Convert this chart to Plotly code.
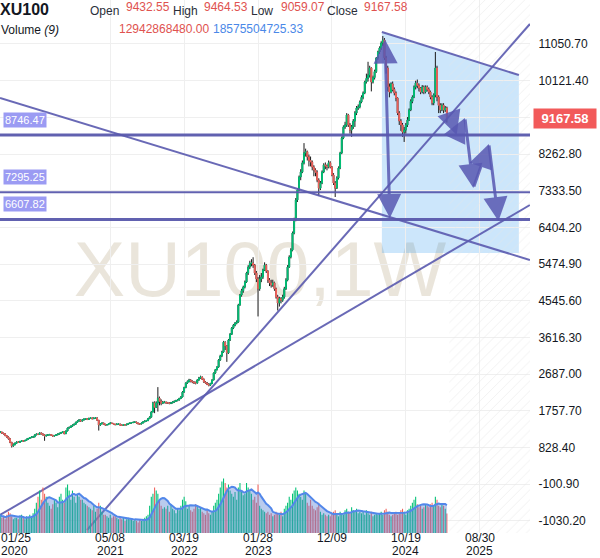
import pandas as pd
import numpy as np
import plotly.graph_objects as go

# ---------------- data (weekly XU100) ----------------
FIRST_WEEK = "2020-01-25"
FIRST_OPEN = 1210

close = [
    1223, 1195, 1180, 1130, 1097, 1050, 960, 870, 900, 940,
    970, 960, 985, 1000, 995, 1010, 1040, 1060, 1080, 1097,
    1097, 1150, 1170, 1160, 1200, 1175, 1150, 1122, 1140, 1150,
    1160, 1140, 1120, 1135, 1150, 1170, 1190, 1210, 1230, 1180,
    1250, 1324, 1340, 1370, 1400, 1420, 1470, 1500, 1527, 1500,
    1530, 1550, 1560, 1540, 1570, 1580, 1560, 1575, 1580, 1520,
    1400, 1430, 1450, 1420, 1400, 1410, 1430, 1450, 1440, 1420,
    1410, 1425, 1425, 1400, 1390, 1410, 1400, 1420, 1440, 1450,
    1460, 1470, 1475, 1450, 1430, 1425, 1450, 1480, 1500, 1510,
    1560, 1600, 1730, 1960, 1850, 1960, 2080, 2000, 1950, 1980,
    1980, 1960, 1960, 1950, 1960, 1980, 2000, 2020, 2033, 2070,
    2110, 2235, 2350, 2463, 2500, 2540, 2510, 2490, 2470, 2463,
    2540, 2590, 2616, 2560, 2490, 2463, 2430, 2410, 2450, 2540,
    2717, 2800, 2870, 3045, 3150, 3250, 3500, 3400, 3225, 3553,
    3700, 3857, 3930, 3980, 4010, 4440, 4693, 4800, 4896, 5022,
    5250, 5400, 5500, 5503, 5450, 5250, 5100, 4850, 5100, 5150,
    5325, 5450, 5300, 5070, 5000, 4945, 5000, 4850, 4640, 4490,
    4600, 4560, 4640, 4850, 5070, 5400, 5655, 5830, 6263, 6593,
    7100, 7353, 7683, 7810, 8040, 8290, 8320, 8190, 8100, 8062,
    7935, 7860, 7800, 7605, 7400, 7530, 7810, 7987, 7960, 7935,
    8040, 7935, 7733, 7530, 7400, 7657, 7910, 8290, 8670, 8950,
    9000, 9252, 9000, 8870, 8950, 9100, 9303, 9430, 9455, 9582,
    9700, 9810, 10088, 10180, 10265, 10443, 10088, 10200, 10350, 10696,
    10848, 10950, 11075, 11150, 10700, 10443, 9962, 9835, 10040, 9900,
    9810, 9683, 9303, 9100, 9000, 8820, 8870, 9000, 9125, 9380,
    9600, 9708, 9962, 10063, 10000, 9936, 9835, 9962, 9835, 9962,
    9900, 9835, 9708, 9557, 9760, 10443, 9708, 9500, 9380, 9500,
    9380, 9432.55, 9167.58,
]

high = [
    1240, 1230, 1205, 1190, 1140, 1110, 1060, 975, 935, 960,
    985, 990, 995, 1015, 1012, 1020, 1050, 1070, 1095, 1110,
    1115, 1160, 1185, 1180, 1215, 1210, 1185, 1160, 1155, 1165,
    1175, 1170, 1150, 1145, 1165, 1180, 1200, 1225, 1245, 1240,
    1260, 1335, 1360, 1385, 1410, 1435, 1480, 1515, 1545, 1540,
    1545, 1565, 1575, 1575, 1585, 1595, 1590, 1590, 1600, 1595,
    1530, 1445, 1465, 1460, 1430, 1425, 1440, 1465, 1460, 1450,
    1430, 1440, 1440, 1435, 1410, 1420, 1420, 1430, 1450, 1465,
    1475, 1485, 1490, 1485, 1460, 1440, 1460, 1490, 1515, 1530,
    1575, 1620, 1750, 1990, 2000, 2000, 2360, 2120, 2050, 2010,
    2010, 1995, 1985, 1980, 1985, 2000, 2020, 2040, 2055, 2090,
    2130, 2260, 2370, 2480, 2530, 2570, 2560, 2530, 2510, 2500,
    2560, 2620, 2650, 2630, 2580, 2510, 2490, 2460, 2470, 2560,
    2730, 2820, 2890, 3070, 3180, 3280, 3530, 3520, 3420, 3580,
    3730, 3880, 3960, 4010, 4050, 4470, 4720, 4850, 4930, 5060,
    5280, 5450, 5560, 5600, 5650, 5480, 5300, 5150, 5200, 5250,
    5360, 5520, 5480, 5320, 5120, 5080, 5080, 5030, 4880, 4700,
    4650, 4640, 4700, 4900, 5120, 5450, 5700, 5880, 6300, 6650,
    7150, 7400, 7720, 7880, 8100, 8540, 8400, 8350, 8250, 8200,
    8100, 7980, 7900, 7850, 7650, 7580, 7850, 8030, 8050, 8000,
    8100, 8080, 7960, 7780, 7580, 7700, 7950, 8320, 8710, 8990,
    9080, 9300, 9280, 9050, 9000, 9150, 9350, 9480, 9520, 9620,
    9750, 9850, 10120, 10300, 10600, 10500, 10460, 10250, 10400, 10720,
    10880, 10990, 11120, 11252, 11200, 10750, 10500, 10050, 10080, 10100,
    9950, 9850, 9700, 9350, 9150, 9050, 8950, 9050, 9200, 9420,
    9650, 9750, 10000, 10120, 10150, 10050, 9960, 10010, 10000, 10000,
    10000, 9950, 9870, 9750, 9800, 10848, 10500, 9750, 9550, 9550,
    9550, 9480, 9464.53,
]

low = [
    1195, 1180, 1160, 1120, 1080, 1030, 940, 830, 850, 890,
    925, 945, 950, 975, 980, 985, 1000, 1030, 1050, 1070,
    1080, 1090, 1140, 1145, 1155, 1165, 1140, 1000, 1110, 1125,
    1140, 1130, 1105, 1110, 1125, 1140, 1160, 1180, 1195, 1165,
    1170, 1240, 1310, 1330, 1355, 1390, 1410, 1455, 1485, 1480,
    1490, 1515, 1535, 1525, 1530, 1560, 1545, 1550, 1560, 1510,
    1260, 1380, 1420, 1410, 1385, 1390, 1400, 1425, 1425, 1405,
    1395, 1400, 1410, 1390, 1375, 1380, 1390, 1395, 1410, 1430,
    1440, 1450, 1455, 1440, 1420, 1410, 1420, 1445, 1470, 1490,
    1500, 1550, 1590, 1720, 1700, 1830, 1740, 1900, 1900, 1930,
    1950, 1940, 1935, 1925, 1930, 1950, 1965, 1990, 2000, 2020,
    2060, 2100, 2220, 2330, 2440, 2480, 2480, 2460, 2440, 2430,
    2450, 2520, 2570, 2540, 2470, 2440, 2410, 2380, 2390, 2440,
    2530, 2700, 2780, 2850, 3030, 3120, 3230, 3300, 3000, 3200,
    3530, 3680, 3830, 3900, 3950, 3990, 4420, 4650, 4750, 4860,
    5000, 5200, 5350, 5420, 5380, 5200, 5020, 4150, 4800, 5020,
    5100, 5300, 5250, 5000, 4920, 4880, 4900, 4800, 4600, 4300,
    4400, 4480, 4520, 4600, 4820, 5040, 5380, 5620, 5800, 6230,
    6560, 7050, 7320, 7600, 7780, 8000, 8200, 8100, 7950, 7950,
    7850, 7700, 7700, 7550, 7200, 7350, 7500, 7780, 7880, 7850,
    7900, 7900, 7700, 7480, 7175, 7380, 7620, 7880, 8260, 8640,
    8900, 8950, 8950, 8780, 8700, 8900, 8950, 9250, 9380, 9420,
    9550, 9650, 9780, 10050, 10100, 10200, 9850, 10050, 10150, 10320,
    10650, 10800, 10900, 11000, 10650, 10300, 9850, 9700, 9800, 9850,
    9750, 9600, 9250, 9000, 8850, 8700, 8570, 8780, 8950, 9100,
    9350, 9550, 9680, 9900, 9930, 9850, 9780, 9800, 9780, 9800,
    9850, 9780, 9650, 9500, 9500, 9700, 9600, 9300, 9300, 9350,
    9300, 9330, 9059.07,
]

volume_bn = [
    12, 10, 11, 9, 12, 14, 13, 11, 9, 10,
    10, 9, 11, 12, 10, 9, 11, 10, 12, 11,
    13, 16, 20, 24, 28, 22, 30, 26, 24, 20,
    18, 16, 19, 22, 20, 17, 24, 26, 22, 20,
    30, 32, 28, 22, 28, 24, 20, 26, 24, 22,
    22, 20, 19, 18, 17, 16, 15, 18, 14, 16,
    20, 18, 14, 12, 12, 11, 10, 12, 10, 11,
    11, 10, 9, 10, 9, 10, 8, 9, 10, 9,
    9, 8, 9, 8, 7, 9, 8, 9, 10, 11,
    12, 18, 24, 26, 30, 28, 26, 22, 18, 16,
    17, 16, 18, 14, 19, 16, 15, 13, 16, 15,
    18, 22, 24, 21, 16, 18, 15, 14, 16, 19,
    18, 16, 17, 14, 13, 12, 15, 13, 12, 14,
    18, 20, 22, 26, 30, 34, 36, 33, 30, 32,
    28, 26, 24, 27, 22, 30, 33, 28, 25, 26,
    33, 30, 28, 26, 22, 24, 20, 32, 18, 16,
    15, 14, 13, 14, 12, 13, 11, 12, 14, 13,
    12, 14, 11, 16, 18, 20, 24, 22, 26, 28,
    30, 28, 26, 24, 22, 28, 26, 20, 18, 22,
    18, 16, 15, 17, 20, 14, 12, 13, 12, 11,
    12, 11, 13, 14, 15, 12, 11, 14, 13, 12,
    15, 16, 14, 13, 17, 15, 14, 16, 13, 14,
    13, 14, 12, 15, 13, 12, 14, 11, 12, 13,
    12, 13, 14, 12, 15, 16, 14, 12, 11, 12,
    13, 14, 12, 13, 15, 16, 14, 12, 15, 16,
    18, 20, 22, 24, 19, 17, 18, 16, 17, 19,
    18, 17, 19, 20, 18, 24, 22, 18, 17, 19,
    18, 16, 12.94,
]

# axis ticks
y_tick_vals = [-1030.20, -100.90, 828.40, 1757.70, 2687.00, 3616.30, 4545.60,
               5474.90, 6404.20, 7333.50, 8262.80, 9192.10, 10121.40, 11050.70]
y_tick_hidden = [9192.10]
x_tick_dates = ["2020-01-25", "2021-05-08", "2022-03-19", "2023-01-28", "2023-12-09", "2024-10-19", "2025-08-30"]
x_tick_text = ["01/25", "05/08", "03/19", "01/28", "12/09", "10/19", "08/30"]
x_tick_years = ["2020", "2021", "2022", "2023", "", "2024", "2025"]

# drawings (date, price)
h_levels = [8746.47, 7295.25, 6607.82]
h_widths = [3, 2, 3]
trend_lines = [
    (("2020-01-24", 9683), ("2026-04-01", 5580)),
    (("2021-01-29", -1259), ("2026-04-01", 11557)),
    (("2020-01-24", -879), ("2026-04-01", 6973)),
    (("2024-07-09", 11354), ("2026-02-13", 10265)),
]
zone = [("2024-07-09", 11354), ("2026-02-13", 10265), ("2026-02-13", 5757), ("2024-07-09", 5757)]
big_arrow = (("2024-07-22", 11202), ("2024-08-12", 6643))
zigzag = [("2025-05-02", 9126), ("2025-05-24", 8746), ("2025-06-28", 9176),
          ("2025-08-03", 7403), ("2025-10-08", 8518), ("2025-11-18", 6567)]

header_ohlc = [("Open", "9432.55"), ("High", "9464.53"), ("Low", "9059.07"), ("Close", "9167.58")]
vol_value, vol_ma_value = "12942868480.00", "18575504725.33"

# ---------------- build ----------------
FONT = "Liberation Sans, Arial, sans-serif"
PLOT_W, PLOT_H = 530, 533
Y_RANGE = [-1335, 12165]
X_START = pd.Timestamp("2020-01-24")
X_END = X_START + pd.Timedelta(days=PLOT_W / 1.642 * 7)

dates = pd.date_range(FIRST_WEEK, periods=len(close), freq="7D")
opens = [FIRST_OPEN] + close[:-1]
hi = [max(h, o, c) for h, o, c in zip(high, opens, close)]
lo = [min(l, o, c) for l, o, c in zip(low, opens, close)]
up = [c >= o for o, c in zip(opens, close)]

GREEN, RED = "#00c176", "#f0625c"
LINE_C = "rgba(92,92,176,0.92)"
ARROW_C = "rgba(88,88,178,0.85)"

fig = go.Figure()

# future hatched region
fig.add_trace(go.Scatter(
    x=[dates[-1] + pd.Timedelta(days=10), X_END + pd.Timedelta(days=30),
       X_END + pd.Timedelta(days=30), dates[-1] + pd.Timedelta(days=10)],
    y=[Y_RANGE[0] - 500, Y_RANGE[0] - 500, Y_RANGE[1] + 500, Y_RANGE[1] + 500],
    fill="toself", mode="none", fillcolor="rgba(0,0,0,0)",
    fillpattern=dict(shape="/", fgcolor="#e4e4e4", bgcolor="rgba(255,255,255,0)", size=7, solidity=0.14),
    hoverinfo="skip", showlegend=False))

# volume bars
fig.add_trace(go.Bar(x=dates, y=volume_bn, yaxis="y2",
                     marker=dict(color=[GREEN if u else RED for u in up], line_width=0),
                     showlegend=False, hoverinfo="skip"))
vol_ma = pd.Series(volume_bn).rolling(9, min_periods=1).mean()
fig.add_trace(go.Scatter(x=dates, y=vol_ma, yaxis="y2", mode="lines", fill="tozeroy",
                         fillcolor="rgba(90,130,215,0.42)", line=dict(color="#5287ea", width=2),
                         showlegend=False, hoverinfo="skip"))

# candles: wicks (black) + colored bodies
fig.add_trace(go.Candlestick(x=dates, open=opens, high=hi, low=lo, close=close,
                             increasing=dict(line=dict(color="#1a1a1a", width=1), fillcolor="#1a1a1a"),
                             decreasing=dict(line=dict(color="#1a1a1a", width=1), fillcolor="#1a1a1a"),
                             showlegend=False, hoverinfo="skip"))
fig.add_trace(go.Candlestick(x=dates, open=opens, close=close,
                             high=[max(o, c) for o, c in zip(opens, close)],
                             low=[min(o, c) for o, c in zip(opens, close)],
                             increasing=dict(line=dict(color=GREEN, width=1), fillcolor=GREEN),
                             decreasing=dict(line=dict(color=RED, width=1), fillcolor=RED),
                             showlegend=False, hoverinfo="skip"))

# trend lines
for (a, b) in trend_lines:
    fig.add_trace(go.Scatter(x=[a[0], b[0]], y=[a[1], b[1]], mode="lines",
                             line=dict(color=LINE_C, width=2), showlegend=False, hoverinfo="skip"))

shapes = []
# shaded zone (below candles)
path = "M " + " L ".join(f"{d},{p}" for d, p in zone) + " Z"
shapes.append(dict(type="path", path=path, xref="x", yref="y", layer="below",
                   fillcolor="rgba(40,150,240,0.24)", line=dict(width=0)))
# watermark (centre near x=260px, y=262px)
wx, wy = 260 / PLOT_W, 1 - 262 / PLOT_H
shapes.append(dict(type="rect", xref="paper", yref="paper", x0=wx - 0.45, x1=wx + 0.45,
                   y0=wy - 0.2, y1=wy + 0.2,
                   line=dict(width=0), fillcolor="rgba(0,0,0,0)", layer="below",
                   label=dict(text="XU100,1W", textposition="middle center",
                              font=dict(family="Liberation Sans, Arial", size=77,
                                        color="rgba(185,170,135,0.30)"))))
for lvl, w in zip(h_levels, h_widths):
    shapes.append(dict(type="line", xref="paper", x0=0, x1=1, yref="y", y0=lvl, y1=lvl,
                       line=dict(color="rgba(88,88,172,0.95)", width=w), layer="above"))
fig.update_layout(shapes=shapes)

ann = []
# arrows
ann.append(dict(x=big_arrow[1][0], y=big_arrow[1][1], ax=big_arrow[0][0], ay=big_arrow[0][1],
                xref="x", yref="y", axref="x", ayref="y", text="", showarrow=True,
                arrowhead=2, arrowside="end+start", arrowsize=1.6, arrowwidth=3, arrowcolor=ARROW_C))
for (a, b) in zip(zigzag[:-1], zigzag[1:]):
    ann.append(dict(x=b[0], y=b[1], ax=a[0], ay=a[1], xref="x", yref="y", axref="x", ayref="y",
                    text="", showarrow=True, arrowhead=2, arrowsize=1.6, arrowwidth=3, arrowcolor=ARROW_C))

# level tags on the left
for lvl in h_levels:
    ann.append(dict(x=3 / PLOT_W, xref="paper", xanchor="left", y=lvl, yref="y", yshift=15,
                    text=f"{lvl:.2f}", showarrow=False, bgcolor="#9b9bf3", borderpad=1,
                    font=dict(family=FONT, size=11, color="white")))

# last price tag
ann.append(dict(x=1.0, xref="paper", xanchor="left", xshift=3, y=close[-1], yref="y",
                text=f"<b>{close[-1]:.2f}</b>", showarrow=False, bgcolor="#f25a5a",
                width=60, height=17, font=dict(family=FONT, size=13, color="white")))


def px_ann(text, px, py, size=12, color="#131722", anchor="left"):
    return dict(x=px / PLOT_W, y=1 - py / PLOT_H, xref="paper", yref="paper", xanchor=anchor,
                yanchor="middle", text=text, showarrow=False, borderpad=0,
                font=dict(family=FONT, size=size, color=color))


ann.append(px_ann("<b>XU100</b>", -1, 9, size=16, color="#131722"))
xs_lab = [89, 172, 250, 326]
xs_val = [125, 203, 280, 363]
for (lab, val), xl, xv in zip(header_ohlc, xs_lab, xs_val):
    ann.append(px_ann(lab, xl, 11, size=12, color="#2a2e39"))
    ann.append(px_ann(val, xv, 7, size=12, color="#e0524f"))
ann.append(px_ann("Volume <i>(9)</i>", 0, 30, size=12, color="#131722"))
ann.append(px_ann(vol_value, 118, 29, size=12, color="#e0524f"))
ann.append(px_ann(vol_ma_value, 212, 29, size=12, color="#4a88e8"))

# x labels (month/day line and year line)
for i, (d, md, yr) in enumerate(zip(x_tick_dates, x_tick_text, x_tick_years)):
    xa = dict(x=0, xref="paper", xanchor="left") if i == 0 else dict(x=d, xref="x", xanchor="center")
    ann.append(dict(**xa, y=1 - 538 / PLOT_H, yref="paper", yanchor="middle", text=md,
                    showarrow=False, borderpad=0, font=dict(family=FONT, size=12, color="#131722")))
    if yr:
        ann.append(dict(**xa, y=1 - 551 / PLOT_H, yref="paper", yanchor="middle", text=yr,
                        showarrow=False, borderpad=0, font=dict(family=FONT, size=12, color="#131722")))

fig.update_layout(annotations=ann)

fig.update_layout(
    width=600, height=558,
    margin=dict(l=0, r=70, t=0, b=25, autoexpand=False),
    paper_bgcolor="white", plot_bgcolor="white",
    font=dict(family=FONT, size=12, color="#131722"),
    showlegend=False, bargap=0.35,
    xaxis=dict(type="date", range=[X_START, X_END], rangeslider=dict(visible=False),
               tickvals=x_tick_dates, showticklabels=False, automargin=False,
               showgrid=True, gridcolor="#efefef", gridwidth=1, ticks="",
               showline=False, zeroline=False),
    yaxis=dict(range=Y_RANGE, side="right", tickvals=y_tick_vals, automargin=False,
               ticktext=["" if v in y_tick_hidden else f"{v:.2f}" for v in y_tick_vals],
               showgrid=True, gridcolor="#efefef", gridwidth=1, zeroline=False,
               ticks="outside", ticklen=5, tickcolor="rgba(0,0,0,0)",
               tickfont=dict(size=12, color="#131722"), showline=False),
    yaxis2=dict(overlaying="y", range=[0, 352], visible=False, fixedrange=True, automargin=False),
)

fig.write_html("out.html",
               config={"displayModeBar": False, "staticPlot": True},
               post_script="document.body.style.margin='0px';document.body.style.padding='0px';"
                           "document.documentElement.style.overflow='hidden';")
